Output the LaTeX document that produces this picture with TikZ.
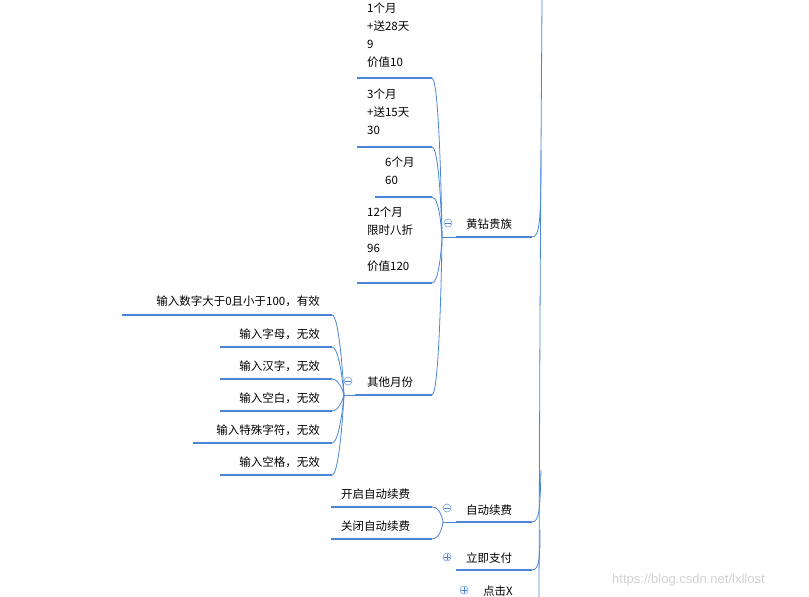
\documentclass[tikz,border=0pt]{standalone}
\usepackage{fontspec}
\usetikzlibrary{calc}
\setmainfont{Noto Sans CJK SC}
\newfontfamily\wmfont{Liberation Sans}
\begin{document}
\begin{tikzpicture}[x=1pt,y=-1pt,
  lbl/.style={inner sep=0pt,font=\fontsize{11.5}{18}\selectfont,align=left},
  uline/.style={draw=blu,line width=2.6pt},
  conn/.style={draw=blu,line width=0.8pt},
  tog/.style={circle,draw=blu!80,line width=0.6pt,minimum size=8pt,inner sep=0pt}]
\definecolor{blu}{HTML}{4A86D8}
\useasboundingbox (0,0) rectangle (809,597);
% trunk
\coordinate (tTop) at (542,0);
\coordinate (tBot) at (539,597);
\draw[conn] (tTop) .. controls (540,300) .. (tBot);
% 黄钻贵族
\node[lbl,anchor=west] (hz) at (466,224) {黄钻贵族};
\coordinate (hzL) at (456,237); \coordinate (hzR) at (532,237);
\draw[uline] (hzL) -- (hzR);
\draw[conn] (hzR) .. controls (540,237) and (541,220) .. (541,150);
\node[tog] (hzt) at (448,223) {}; \draw[blu] (445,223) -- (451,223);
\coordinate (j1) at (442,237);
\draw[conn] (j1) -- (hzL);
% children of 黄钻贵族
\node[lbl,anchor=north west] (c1) at (367,3) {1个月\\+送28天\\9\\价值10};
\coordinate (c1L) at (357,78); \coordinate (c1R) at (432,78);
\node[lbl,anchor=north west] (c2) at (367,89) {3个月\\+送15天\\30};
\coordinate (c2L) at (357,147); \coordinate (c2R) at (432,147);
\node[lbl,anchor=north west] (c3) at (385,157) {6个月\\60};
\coordinate (c3L) at (375,197); \coordinate (c3R) at (432,197);
\node[lbl,anchor=north west] (c4) at (367,207) {12个月\\限时八折\\96\\价值120};
\coordinate (c4L) at (357,283); \coordinate (c4R) at (432,283);
\node[lbl,anchor=west] (qt) at (367,382) {其他月份};
\coordinate (qtL) at (355,395); \coordinate (qtR) at (432,395);
\foreach \a/\b in {c1L/c1R,c2L/c2R,c3L/c3R,c4L/c4R,qtL/qtR} \draw[uline] (\a) -- (\b);
\foreach \c in {c1R,c2R,c3R,c4R,qtR}
  \draw[conn] (\c) .. controls ($(\c)+(8,0)$) and (j1) .. (j1);
\node[tog] (qtt) at (348,381) {}; \draw[blu] (345,381) -- (351,381);
% children of 其他月份
\coordinate (j2) at (344,395);
\draw[conn] (j2) -- (qtL);
\node[lbl,anchor=east] (o1) at (320,301) {输入数字大于0且小于100，有效};
\coordinate (o1L) at (122,315); \coordinate (o1R) at (332,315);
\node[lbl,anchor=east] (o2) at (320,334) {输入字母，无效};
\coordinate (o2L) at (220,347); \coordinate (o2R) at (332,347);
\node[lbl,anchor=east] (o3) at (320,366) {输入汉字，无效};
\coordinate (o3L) at (220,379); \coordinate (o3R) at (332,379);
\node[lbl,anchor=east] (o4) at (320,398) {输入空白，无效};
\coordinate (o4L) at (220,411); \coordinate (o4R) at (332,411);
\node[lbl,anchor=east] (o5) at (320,430) {输入特殊字符，无效};
\coordinate (o5L) at (193,443); \coordinate (o5R) at (332,443);
\node[lbl,anchor=east] (o6) at (320,462) {输入空格，无效};
\coordinate (o6L) at (220,475); \coordinate (o6R) at (332,475);
\foreach \a/\b in {o1L/o1R,o2L/o2R,o3L/o3R,o4L/o4R,o5L/o5R,o6L/o6R} {
  \draw[uline] (\a) -- (\b);
  \draw[conn] (\b) .. controls ($(\b)+(8,0)$) and (j2) .. (j2);}
% 自动续费
\node[lbl,anchor=west] (zd) at (466,510) {自动续费};
\coordinate (zdL) at (456,522); \coordinate (zdR) at (532,522);
\draw[uline] (zdL) -- (zdR);
\draw[conn] (zdR) .. controls (540,522) and (540,505) .. (541,470);
\node[tog] (zdt) at (447,508) {}; \draw[blu] (444,508) -- (450,508);
\coordinate (j3) at (443,522);
\draw[conn] (j3) -- (zdL);
\node[lbl,anchor=west] (k1) at (341,494) {开启自动续费};
\coordinate (k1L) at (331,507); \coordinate (k1R) at (432,507);
\node[lbl,anchor=west] (k2) at (341,526) {关闭自动续费};
\coordinate (k2L) at (331,539); \coordinate (k2R) at (432,539);
\foreach \a/\b in {k1L/k1R,k2L/k2R} {
  \draw[uline] (\a) -- (\b);
  \draw[conn] (\b) .. controls ($(\b)+(9,0)$) and (j3) .. (j3);}
% 立即支付
\node[lbl,anchor=west] (lj) at (466,558) {立即支付};
\coordinate (ljL) at (456,570); \coordinate (ljR) at (532,570);
\draw[uline] (ljL) -- (ljR);
\draw[conn] (ljR) .. controls (540,570) and (540,555) .. (540,530);
\node[tog] (ljt) at (447,557) {}; \draw[blu] (444,557) -- (450,557) (447,554) -- (447,560);
% 点击X
\node[lbl,anchor=west] (dj) at (483,591) {点击X};
\node[tog] (djt) at (464,590) {}; \draw[blu] (461,590) -- (467,590) (464,587) -- (464,593);
% watermark
\node[inner sep=0pt,anchor=west,text=black!18,font=\wmfont\fontsize{13}{15}\selectfont] (wm) at (612,580) {https://blog.csdn.net/lxllost};
\end{tikzpicture}
\end{document}
